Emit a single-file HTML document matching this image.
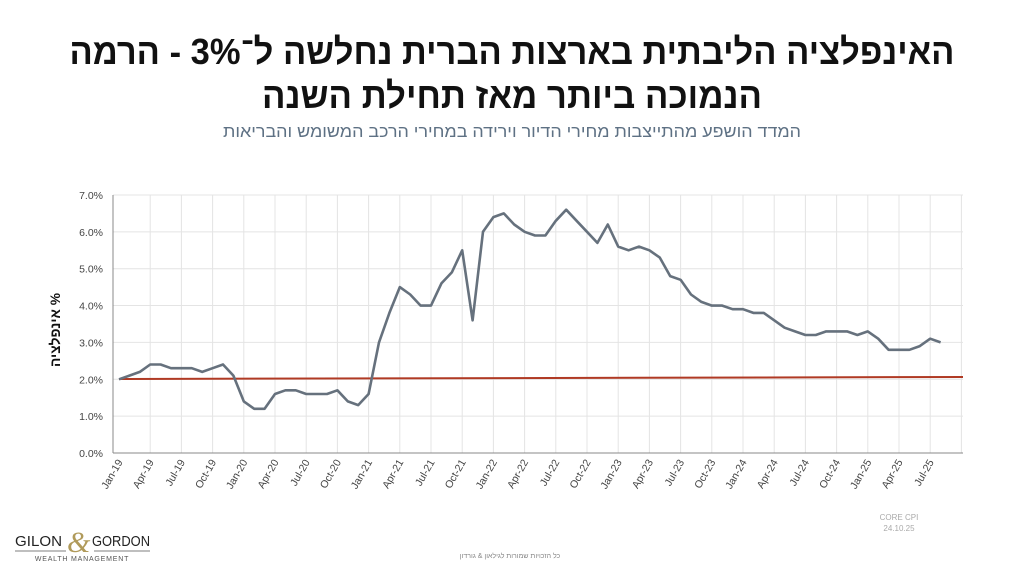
<!DOCTYPE html>
<html><head><meta charset="utf-8"><style>
body{margin:0;background:#fff;}
svg{display:block;font-family:"Liberation Sans","Noto Sans CJK SC",sans-serif;}
</style></head><body>
<svg width="1024" height="576" viewBox="0 0 1024 576" xmlns="http://www.w3.org/2000/svg">
<text x="512" y="64" text-anchor="middle" font-size="36" font-weight="bold" fill="#111" direction="rtl" textLength="885" lengthAdjust="spacingAndGlyphs">האינפלציה הליבתית בארצות הברית נחלשה ל־3% - הרמה</text>
<text x="512" y="108" text-anchor="middle" font-size="36" font-weight="bold" fill="#111" direction="rtl" textLength="500" lengthAdjust="spacingAndGlyphs">הנמוכה ביותר מאז תחילת השנה</text>
<text x="512" y="137" text-anchor="middle" font-size="17" fill="#5e7184" direction="rtl" textLength="578" lengthAdjust="spacingAndGlyphs">המדד הושפע מהתייצבות מחירי הדיור וירידה במחירי הרכב המשומש והבריאות</text>
<g id="grid" stroke="#e4e4e4" stroke-width="1"></g>
<line x1="113" y1="195" x2="113" y2="453" stroke="#888"/>
<line x1="113" y1="453" x2="963" y2="453" stroke="#888"/>
<g id="yl" font-size="10.5" fill="#444" text-anchor="end"></g>
<g id="xl" font-size="10.5" fill="#444"></g>
<text transform="translate(60,330) rotate(-90)" text-anchor="middle" font-size="14" font-weight="bold" fill="#111" direction="rtl" textLength="74" lengthAdjust="spacingAndGlyphs">% אינפלציה</text>
<line x1="119" y1="379" x2="963" y2="377" stroke="#b03a24" stroke-width="2"/>
<polyline id="ln" fill="none" stroke="#66717d" stroke-width="2.6" stroke-linejoin="round"/>
<text x="15" y="546" font-size="15" fill="#222" textLength="47" lengthAdjust="spacingAndGlyphs">GILON</text>
<text x="67" y="552" font-size="30" fill="#b09a5a" font-family="Liberation Serif,serif" font-style="italic">&amp;</text>
<text x="92" y="546" font-size="15" fill="#222" textLength="58" lengthAdjust="spacingAndGlyphs">GORDON</text>
<line x1="15" y1="551" x2="66" y2="551" stroke="#aaa" stroke-width="1.5"/>
<line x1="94" y1="551" x2="150" y2="551" stroke="#aaa" stroke-width="1.5"/>
<text x="82" y="561" text-anchor="middle" font-size="7" fill="#555" letter-spacing="0.8">WEALTH MANAGEMENT</text>
<text x="510" y="558" text-anchor="middle" font-size="7" fill="#888" direction="rtl">כל הזכויות שמורות לגילאון &amp; גורדון</text>
<text x="899" y="520" text-anchor="middle" font-size="8" fill="#aaa">CORE CPI</text>
<text x="899" y="531" text-anchor="middle" font-size="8" fill="#aaa">24.10.25</text>
</svg>
<script>
var d=[2.0,2.1,2.2,2.4,2.4,2.3,2.3,2.3,2.2,2.3,2.4,2.1,1.4,1.2,1.2,1.6,1.7,1.7,1.6,1.6,1.6,1.7,1.4,1.3,1.6,3.0,3.8,4.5,4.3,4.0,4.0,4.6,4.9,5.5,3.6,6.0,6.4,6.5,6.2,6.0,5.9,5.9,6.3,6.6,6.3,6.0,5.7,6.2,5.6,5.5,5.6,5.5,5.3,4.8,4.7,4.3,4.1,4.0,4.0,3.9,3.9,3.8,3.8,3.6,3.4,3.3,3.2,3.2,3.3,3.3,3.3,3.2,3.3,3.1,2.8,2.8,2.8,2.9,3.1,3.0];
var dx=10.4,x0=119,Y=function(v){return 453-v*36.86;};
var ns="http://www.w3.org/2000/svg";
document.getElementById('ln').setAttribute('points',d.map(function(v,i){return (x0+i*dx).toFixed(1)+','+Y(v).toFixed(1)}).join(' '));
var g=document.getElementById('grid'),yl=document.getElementById('yl'),xl=document.getElementById('xl');
for(var k=1;k<=7;k++){var l=document.createElementNS(ns,'line');l.setAttribute('x1',113);l.setAttribute('x2',963);l.setAttribute('y1',Y(k));l.setAttribute('y2',Y(k));g.appendChild(l);}
for(var k=0;k<=7;k++){var t=document.createElementNS(ns,'text');t.setAttribute('x',103);t.setAttribute('y',Y(k)+4);t.textContent=k.toFixed(1)+'%';yl.appendChild(t);}
var m=['Jan','Apr','Jul','Oct'];
for(var q=0;q<27;q++){var x=x0+q*3*dx;
 var l=document.createElementNS(ns,'line');l.setAttribute('x1',x+dx*3);l.setAttribute('x2',x+dx*3);l.setAttribute('y1',195);l.setAttribute('y2',453);g.appendChild(l);
 var t=document.createElementNS(ns,'text');t.setAttribute('transform','translate('+(x+4)+',462) rotate(-60)');t.setAttribute('text-anchor','end');
 t.textContent=m[q%4]+'-'+(19+Math.floor(q/4));xl.appendChild(t);}
</script>
</body></html>
